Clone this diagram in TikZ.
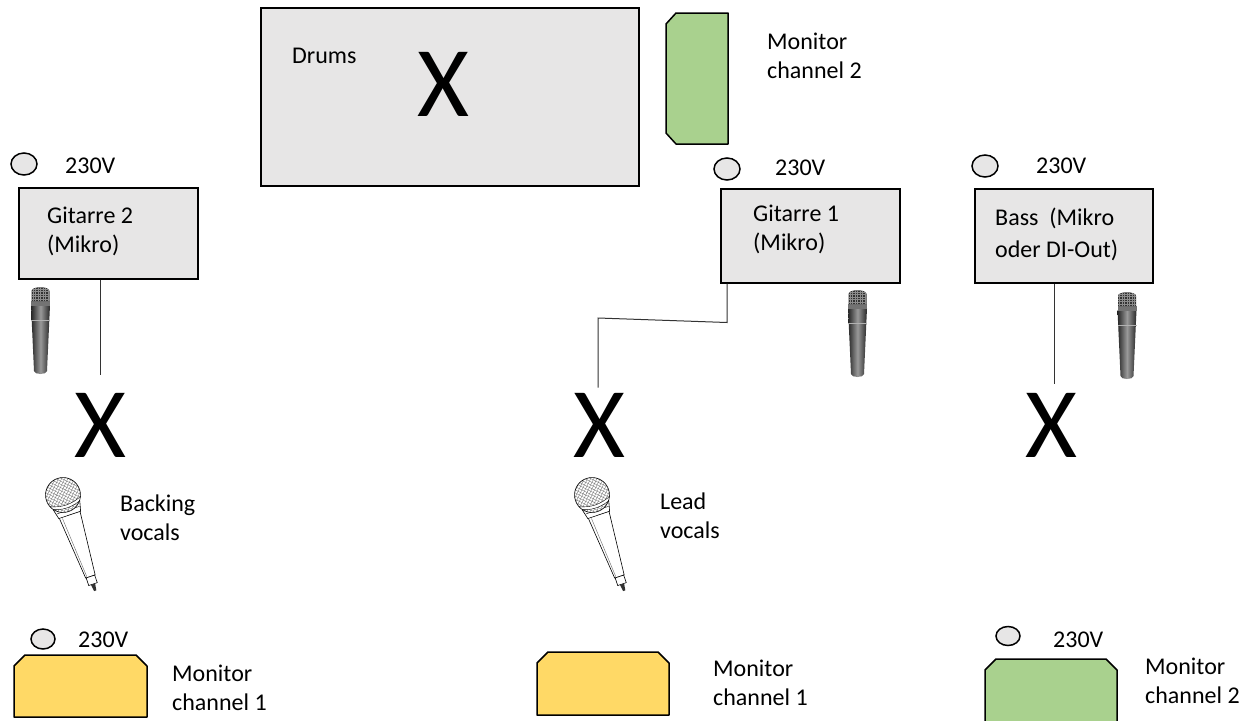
\documentclass[tikz,border=0pt]{standalone}
\usepackage{fontspec}
\setmainfont{Carlito}
\usetikzlibrary{shapes.geometric}

\definecolor{boxgray}{HTML}{E7E6E6}
\definecolor{mongreen}{HTML}{A9D18E}
\definecolor{monyellow}{HTML}{FFD966}

\tikzset{
  amp/.style={draw,line width=1.5pt,fill=boxgray,inner sep=0pt,anchor=north west},
  txt/.style={anchor=base west,inner sep=0pt,align=left,font=\fontsize{24}{29}\selectfont},
  bigx/.style={inner sep=0pt,font=\fontsize{100}{100}\selectfont},
  socket/.style={draw,line width=1.5pt,fill=boxgray,ellipse,inner sep=0pt},
  monitor/.style={draw,line width=1.5pt,line join=round},
  cable/.style={line width=1pt,black!80},
  % instrument microphone (top centre is the origin)
  sm57/.pic={
    \shade[left color=black!85,right color=black!85,middle color=black!40]
      (-9.5,18) -- (9.5,18) -- (6.5,84) .. controls (6,88) and (-6,88) .. (-6.5,84) -- cycle;
    \fill[black!55] (-9.5,14) rectangle (9.5,19);
    \fill[black!80] (-9,14) -- (-9,4) .. controls (-9,-1) and (9,-1) .. (9,4) -- (9,14) -- cycle;
    \begin{scope}
      \clip (-9,14) -- (-9,4) .. controls (-9,-1) and (9,-1) .. (9,4) -- (9,14) -- cycle;
      \foreach \i in {-7.5,-5,...,7.5}
        \draw[black!45,line width=0.4pt] (\i,0) -- (\i,14);
      \foreach \j in {2,4.5,...,14}
        \draw[black!45,line width=0.4pt] (-9,\j) -- (9,\j);
    \end{scope}
    \fill[black!30] (-9.5,33) rectangle (9.5,34);
  },
  % vocal microphone (head centre is the origin)
  vocmic/.pic={
    \draw[line width=0.6pt,fill=white] (-11,20) -- (-5,86) -- (5,86) -- (11,20) -- cycle;
    \draw[line width=0.4pt,black!60] (-8,22) -- (-3.5,85);
    \draw[line width=0.6pt,fill=white] (-4.5,86) rectangle (4.5,94);
    \fill[black!80] (-2.2,94) -- (-1.2,101) -- (1.2,101) -- (2.2,94) -- cycle;
    \draw[line width=0.6pt,fill=white] (-14,11) -- (-11.5,21) -- (11.5,21) -- (14,11) -- cycle;
    \draw[line width=0.4pt] (-12,16) -- (12,16);
    \begin{scope}
      \clip (0,0) circle (17.5pt);
      \fill[white] (0,0) circle (17.5pt);
      \foreach \i in {-36,-32,...,36} {
        \draw[black!55,line width=0.35pt] (\i-20,-20) -- (\i+20,20);
        \draw[black!55,line width=0.35pt] (\i+20,-20) -- (\i-20,20);
      }
      \fill[white] (-18,6) .. controls (-6,12) and (6,12) .. (18,6) -- (18,9) .. controls (6,15) and (-6,15) .. (-18,9) -- cycle;
      \draw[line width=0.4pt] (-18,6) .. controls (-6,12) and (6,12) .. (18,6);
      \draw[line width=0.4pt] (-18,9) .. controls (-6,15) and (6,15) .. (18,9);
    \end{scope}
    \draw[line width=0.6pt] (0,0) circle (17.5pt);
  }
}

\begin{document}
\begin{tikzpicture}[x=1pt,y=-1pt]

    \useasboundingbox (0,0) rectangle (1252,720);

    % drums
    \node[amp,minimum width=378pt,minimum height=178pt] (drums) at (260,7) {};
    \node[txt] (drumstxt) at (292,63) {Drums};
    \node[bigx] (xdrums) at (443,84) {X};

    % monitor behind the drums
    \draw[monitor,fill=mongreen] (676,13) -- (728,13) -- (728,144) -- (676,144)
        -- (666,133) -- (666,24) -- cycle;
    \node[txt] (mondrums) at (767,78) {Monitor\\channel 2};

    % amps (two-line texts sit on their last baseline)
    \node[amp,minimum width=179pt,minimum height=91pt] (git2) at (18,187) {};
    \node[txt] (git2txt) at (47,252) {Gitarre 2\\(Mikro)};
    \node[amp,minimum width=179pt,minimum height=94pt] (git1) at (720,188) {};
    \node[txt] (git1txt) at (753,250) {Gitarre 1\\(Mikro)};
    \node[amp,minimum width=178pt,minimum height=94pt] (bass) at (974,188) {};
    \node[txt] (basstxt) at (995,257) {Bass~~(Mikro\\[3pt]oder DI-Out)};

    % power sockets
    \node[socket,minimum width=26pt,minimum height=22pt] (sockgit2) at (24,164) {};
    \node[txt] at (65,173) {230V};
    \node[socket,minimum width=26pt,minimum height=22pt] (sockgit1) at (727,169) {};
    \node[txt] at (775,175) {230V};
    \node[socket,minimum width=26pt,minimum height=22pt] (sockbass) at (985,166) {};
    \node[txt] at (1036,173) {230V};
    \node[socket,minimum width=24pt,minimum height=20pt] (sockmon1) at (43,639) {};
    \node[txt] at (78,647) {230V};
    \node[socket,minimum width=24pt,minimum height=19pt] (sockmon2) at (1008,636) {};
    \node[txt] at (1053,647) {230V};

    % instrument mics
    \pic at (40.5,287) {sm57};
    \pic at (857.5,290) {sm57};
    \pic at (1127,292) {sm57};

    % musicians
    \node[bigx] (xgit2) at (100,425) {X};
    \node[bigx] (xlead) at (599,425) {X};
    \node[bigx] (xbass) at (1051,425) {X};

    % cables
    \coordinate (bend) at (598,318);
    \draw[cable] (xgit2.north |- git2.south) -- ([yshift=18pt]xgit2.north);
    \draw[cable] ([xshift=7pt]git1.south west) -- ++(0,39) -- (bend)
        -- ([xshift=-1pt,yshift=5pt]xlead.north);
    \draw[cable] ([xshift=80pt]bass.south west) -- ([xshift=3pt,yshift=9pt]xbass.north);

    % vocal mics
    \pic[rotate=18.6] at (63,495) {vocmic};
    \node[txt] (backing) at (120,540) {Backing\\vocals};
    \pic[rotate=18.6] at (592,495) {vocmic};
    \node[txt] (lead) at (660,538) {Lead\\vocals};

    % floor monitors
    \draw[monitor,fill=monyellow] (14,717) -- (14,666) -- (25,655) -- (136,655)
        -- (147,666) -- (147,717) -- cycle;
    \node[txt] (mon1txt) at (172,710) {Monitor\\channel 1};
    \draw[monitor,fill=monyellow] (537,715) -- (537,663) -- (548,652) -- (658,652)
        -- (669,663) -- (669,715) -- cycle;
    \node[txt] (mon2txt) at (713,705) {Monitor\\channel 1};
    \draw[monitor,fill=mongreen] (985,724) -- (985,670) -- (996,659) -- (1106,659)
        -- (1117,670) -- (1117,724) -- cycle;
    \node[txt] (mon3txt) at (1145,703) {Monitor\\channel 2};
\end{tikzpicture}
\end{document}
